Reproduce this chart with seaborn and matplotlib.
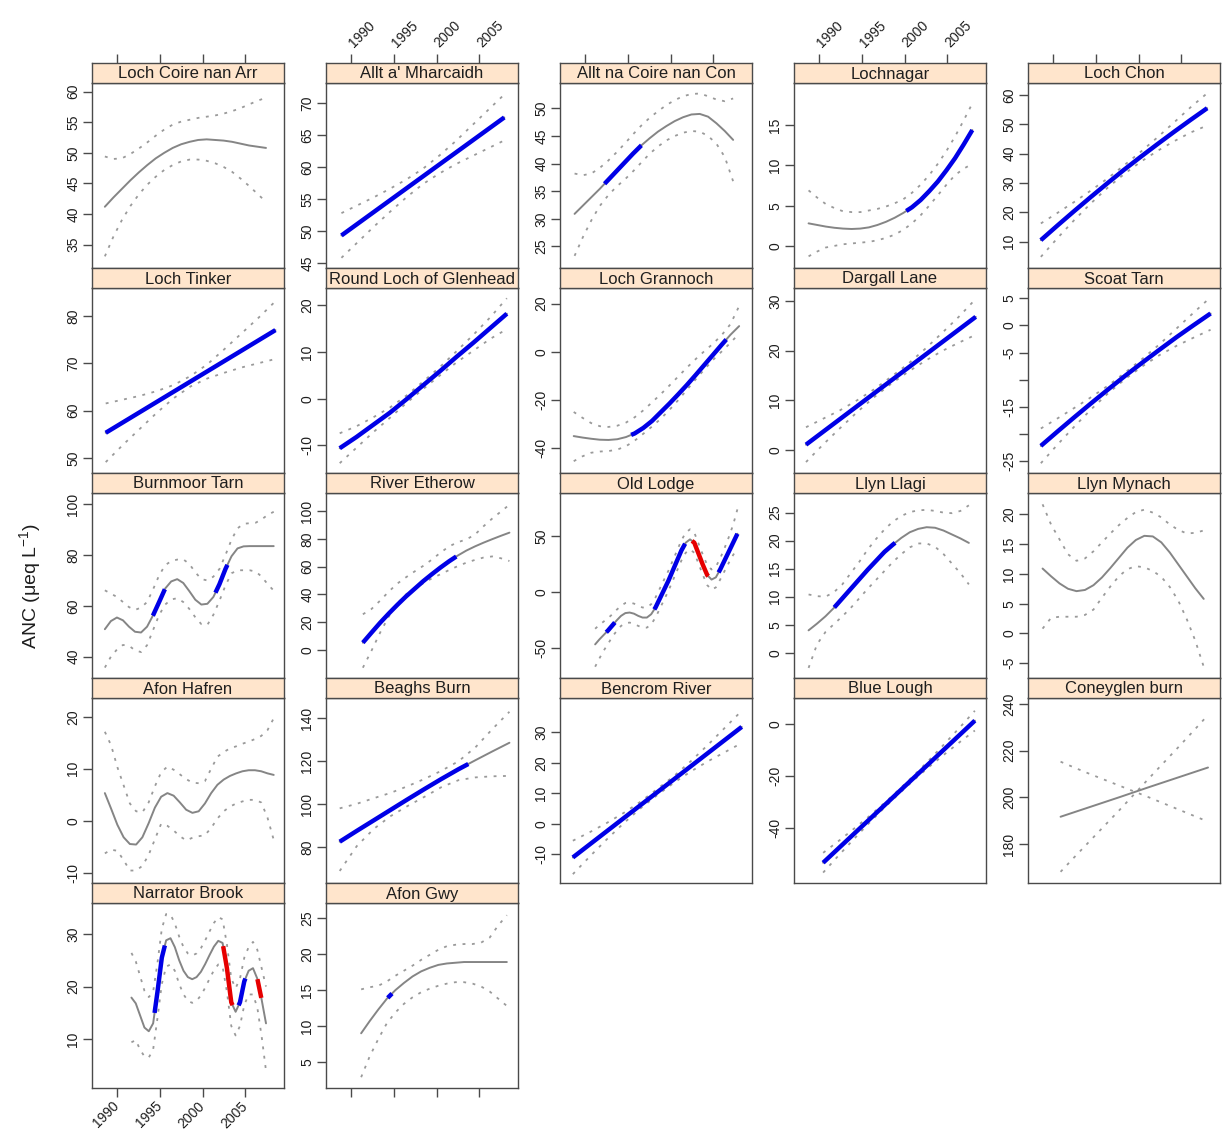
import numpy as np
import pandas as pd
import matplotlib
matplotlib.use("Agg")
import matplotlib.pyplot as plt
import seaborn as sns

# ---------------------------------------------------------------------------
# Smoothed ANC trends per site: fitted trend, upper / lower pointwise bands,
# and the periods of significant increase (up) or decrease (down).
# Each series is sampled evenly between the site's first and last year.
# ---------------------------------------------------------------------------
sites = ["Loch Coire nan Arr", "Allt a' Mharcaidh", "Allt na Coire nan Con", "Lochnagar", "Loch Chon",
         "Loch Tinker", "Round Loch of Glenhead", "Loch Grannoch", "Dargall Lane", "Scoat Tarn",
         "Burnmoor Tarn", "River Etherow", "Old Lodge", "Llyn Llagi", "Llyn Mynach",
         "Afon Hafren", "Beaghs Burn", "Bencrom River", "Blue Lough", "Coneyglen burn",
         "Narrator Brook", "Afon Gwy"]

year_ticks = [1990, 1995, 2000, 2005]

coire_span = (1988.6, 2007.4)
coire_fit = [41.2, 42.7, 44.1, 45.5, 46.8, 48.0, 49.1, 50.0, 50.8, 51.4, 51.8, 52.1, 52.2, 52.1, 52.0, 51.8, 51.5, 51.2, 51.0, 50.8]
coire_hi = [49.4, 49.0, 49.1, 49.8, 50.7, 51.7, 52.8, 53.8, 54.6, 55.1, 55.4, 55.7, 55.9, 56.1, 56.4, 56.8, 57.3, 57.9, 58.5, 59.0]
coire_lo = [33.1, 36.3, 39.0, 41.3, 43.2, 44.8, 46.1, 47.2, 48.0, 48.6, 48.9, 48.9, 48.7, 48.3, 47.7, 46.9, 45.8, 44.6, 43.3, 42.0]
coire_up, coire_down = [], []
coire_ticks, coire_ylim = [35, 40, 45, 50, 55, 60], (31.2, 61.4)

mharc_span = (1988.9, 2007.9)
mharc_fit = [49.3, 51.15, 53.0, 54.85, 56.7, 58.55, 60.4, 62.25, 64.1, 65.95, 67.8]
mharc_hi = [52.8, 54.05, 55.3, 56.65, 58.1, 59.75, 61.8, 64.05, 66.5, 68.95, 71.4]
mharc_lo = [45.8, 48.25, 50.7, 53.05, 55.3, 57.35, 59.0, 60.45, 61.7, 62.95, 64.2]
mharc_up, mharc_down = [(1988.9, 2007.9)], []
mharc_ticks, mharc_ylim = [45, 50, 55, 60, 65, 70], (44.2, 73.2)

con_span = (1988.8, 2007.3)
con_fit = [30.9, 32.4, 33.9, 35.4, 37.0, 38.6, 40.2, 41.8, 43.3, 44.6, 45.8, 46.8, 47.7, 48.4, 48.9, 49.0, 48.5, 47.3, 45.9, 44.3]
con_hi = [38.2, 37.9, 38.2, 39.2, 40.5, 42.0, 43.6, 45.3, 46.9, 48.3, 49.5, 50.6, 51.5, 52.2, 52.6, 52.7, 52.2, 51.6, 51.3, 51.8]
con_lo = [23.3, 26.7, 29.7, 32.3, 34.2, 35.8, 37.1, 38.6, 40.2, 41.8, 43.1, 44.2, 45.0, 45.6, 45.9, 45.8, 45.0, 43.6, 41.2, 36.8]
con_up, con_down = [(1992.3, 1996.6)], []
con_ticks, con_ylim = [25, 30, 35, 40, 45, 50], (21.1, 54.6)

lnag_span = (1988.8, 2007.9)
lnag_fit = [2.8, 2.6, 2.4, 2.25, 2.15, 2.1, 2.15, 2.3, 2.6, 3.0, 3.5, 4.1, 4.8, 5.7, 6.8, 8.0, 9.4, 10.9, 12.6, 14.4]
lnag_hi = [6.9, 6.0, 5.2, 4.7, 4.3, 4.2, 4.2, 4.4, 4.6, 4.9, 5.3, 5.8, 6.6, 7.6, 8.8, 10.2, 11.8, 13.6, 15.6, 17.7]
lnag_lo = [-1.3, -0.7, -0.2, 0.0, 0.2, 0.3, 0.4, 0.5, 0.7, 1.0, 1.4, 2.0, 2.8, 3.8, 5.0, 6.3, 7.6, 8.8, 9.6, 10.2]
lnag_up, lnag_down = [(2000.2, 2007.9)], []
lnag_ticks, lnag_ylim = [0, 5, 10, 15], (-2.75, 20.25)

chon_span = (1988.6, 2008.0)
chon_fit = [10.5, 15.5, 20.4, 25.2, 29.9, 34.5, 38.9, 43.2, 47.4, 51.5, 55.5]
chon_hi = [16.2, 19.8, 23.5, 27.4, 31.5, 36.0, 40.6, 45.5, 50.6, 55.8, 60.6]
chon_lo = [4.8, 11.2, 17.3, 23.0, 28.3, 33.0, 37.2, 40.9, 44.2, 47.2, 49.6]
chon_up, chon_down = [(1988.6, 2008.0)], []
chon_ticks, chon_ylim = [10, 20, 30, 40, 50, 60], (1.0, 64.1)

tink_span = (1988.7, 2008.5)
tink_fit = [55.3, 57.47, 59.64, 61.81, 63.98, 66.15, 68.32, 70.49, 72.66, 74.83, 77.0]
tink_hi = [61.5, 62.3, 63.1, 64.1, 65.4, 67.3, 69.8, 73.0, 76.3, 79.6, 83.1]
tink_lo = [49.1, 52.7, 56.1, 59.5, 62.6, 65.1, 66.8, 68.0, 69.1, 70.0, 70.9]
tink_up, tink_down = [(1988.7, 2008.5)], []
tink_ticks, tink_ylim = [50, 60, 70, 80], (46.8, 85.9)

glen_span = (1988.7, 2008.2)
glen_fit = [-10.6, -8.2, -5.6, -3.0, -0.1, 2.9, 5.9, 9.0, 12.0, 15.1, 18.2]
glen_hi = [-7.4, -5.9, -4.0, -1.9, 0.7, 3.7, 6.8, 10.2, 13.7, 17.4, 21.5]
glen_lo = [-13.8, -10.5, -7.2, -4.1, -0.9, 2.1, 5.0, 7.8, 10.3, 12.8, 14.9]
glen_up, glen_down = [(1988.7, 2008.2)], []
glen_ticks, glen_ylim = [-10, 0, 10, 20], (-15.9, 23.7)

gran_span = (1988.7, 2008.0)
gran_fit = [-34.9, -35.5, -36.0, -36.4, -36.5, -36.2, -35.3, -33.8, -31.5, -28.6, -25.0, -21.4, -17.6, -13.7, -9.6, -5.4, -1.2, 3.0, 7.1, 10.7]
gran_hi = [-24.9, -27.3, -29.5, -30.8, -31.1, -30.6, -29.3, -27.1, -24.2, -20.9, -17.5, -13.9, -10.2, -6.5, -3.0, 0.3, 3.4, 7.0, 11.5, 19.0]
gran_lo = [-45.3, -43.3, -41.8, -41.3, -41.1, -40.5, -39.1, -36.8, -33.9, -30.9, -27.7, -24.0, -20.0, -15.7, -11.4, -7.3, -3.3, 0.2, 3.8, 7.6]
gran_up, gran_down = [(1995.4, 2006.5)], []
gran_ticks, gran_ylim = [-40, -20, 0, 20], (-50.2, 26.5)

darg_span = (1988.5, 2008.3)
darg_fit = [1.1, 3.67, 6.24, 8.81, 11.38, 13.95, 16.52, 19.09, 21.66, 24.23, 26.8]
darg_hi = [4.6, 6.3, 8.0, 10.0, 12.2, 14.7, 17.3, 20.3, 23.5, 26.8, 30.4]
darg_lo = [-2.4, 1.1, 4.4, 7.6, 10.6, 13.3, 15.7, 17.9, 19.9, 21.6, 23.2]
darg_up, darg_down = [(1988.5, 2008.3)], []
darg_ticks, darg_ylim = [0, 10, 20, 30], (-4.6, 32.6)

scoat_span = (1988.6, 2008.4)
scoat_fit = [-22.2, -19.5, -16.85, -14.25, -11.7, -9.2, -6.8, -4.45, -2.15, 0.05, 2.2]
scoat_hi = [-19.0, -17.1, -15.15, -13.15, -11.0, -8.6, -6.1, -3.45, -0.55, 2.35, 5.2]
scoat_lo = [-25.4, -21.9, -18.55, -15.35, -12.4, -9.8, -7.5, -5.45, -3.75, -2.25, -0.8]
scoat_up, scoat_down = [(1988.6, 2008.4)], []
scoat_ticks, scoat_ylim = [-25, -20, -15, -10, -5, 0, 5], (-27.2, 6.9)
scoat_ticklabels = ["-25", "", "-15", "", "-5", "0", "5"]

burn_span = (1988.6, 2008.3)
burn_fit = [50.8, 54.0, 55.4, 54.3, 51.8, 49.8, 49.5, 51.8, 56.3, 61.5, 66.8, 69.6, 70.5, 69.0, 65.8,
            62.4, 60.5, 60.8, 63.5, 68.5, 74.5, 79.5, 82.6, 83.4, 83.5, 83.5, 83.5, 83.5, 83.5]
burn_hi = [66.1, 64.8, 63.5, 61.5, 59.5, 58.4, 59.3, 61.5, 66.5, 72.0, 76.0, 77.6, 78.2, 78.3, 76.5,
           73.2, 70.5, 70.0, 71.5, 74.5, 80.0, 86.0, 90.5, 92.3, 92.5, 92.7, 94.0, 95.8, 97.0]
burn_lo = [35.7, 40.0, 42.8, 44.6, 44.3, 42.5, 41.8, 44.5, 50.5, 56.4, 60.5, 62.5, 63.0, 61.5, 58.8,
           55.5, 52.8, 52.5, 56.5, 62.0, 68.0, 72.8, 74.0, 74.0, 74.0, 73.5, 71.5, 68.5, 66.0]
burn_up, burn_down = [(1994.2, 1995.6), (2001.5, 2002.9)], []
burn_ticks, burn_ylim = [40, 60, 80, 100], (31.6, 104.4)

ether_span = (1991.4, 2008.5)
ether_fit = [5.3, 12.5, 19.6, 26.2, 32.5, 38.5, 44.0, 49.5, 54.5, 59.3, 63.8, 67.9, 71.5, 74.5, 77.2, 79.7, 82.1, 84.4]
ether_hi = [25.7, 29.5, 35.5, 42.0, 47.8, 52.3, 56.5, 60.5, 65.0, 70.0, 74.5, 77.5, 79.5, 83.0, 89.0, 94.5, 99.5, 104.5]
ether_lo = [-12.7, -0.5, 12.5, 24.0, 33.5, 40.0, 44.2, 48.0, 51.5, 54.5, 57.5, 60.3, 62.8, 64.8, 66.5, 67.3, 66.0, 64.0]
ether_up, ether_down = [(1991.4, 2002.3)], []
ether_ticks, ether_ylim = [0, 20, 40, 60, 80, 100], (-20.1, 112.9)

lodge_span = (1991.2, 2007.8)
lodge_fit = [-47, -42.5, -38.5, -34.5, -30, -25.5, -21.5, -19, -18.5, -19.5, -21.5, -23, -23, -20, -14, -6, 2,
             10, 19, 28, 37, 44, 47, 44, 34, 24, 15, 11, 13, 20, 28, 36, 44, 52]
lodge_hi = [-33, -29.5, -26.5, -23.5, -20, -16, -12.5, -10, -9.5, -10.5, -12.5, -14, -14, -11, -5, 3, 11,
            19, 28, 37, 46, 53, 56, 53, 43, 33, 24, 20, 22.5, 30, 39, 49, 60, 74]
lodge_lo = [-67, -59.5, -52.5, -46.5, -40, -35, -30.5, -28, -27.5, -28.5, -30.5, -32, -32, -29, -23, -15, -7,
            1, 10, 19, 28, 35, 38, 35, 25, 15, 6, 2, 4, 11, 18.5, 26, 33, 39]
lodge_up, lodge_down = [(1992.5, 1993.5), (1998.1, 2001.7), (2005.6, 2007.8)], [(2002.5, 2004.4)]
lodge_ticks, lodge_ylim = [-50, 0, 50], (-77.1, 88.5)

llagi_span = (1988.8, 2007.5)
llagi_fit = [4.0, 5.2, 6.5, 8.0, 9.7, 11.4, 13.1, 14.8, 16.4, 18.0, 19.3, 20.5, 21.5, 22.1, 22.4, 22.3, 21.8, 21.1, 20.4, 19.6]
llagi_hi = [10.4, 10.1, 10.0, 10.8, 12.2, 14.2, 16.2, 18.4, 20.3, 22.0, 23.4, 24.4, 25.1, 25.4, 25.5, 25.3, 25.0, 24.9, 25.3, 26.3]
llagi_lo = [-2.7, 1.5, 3.7, 5.1, 6.5, 8.0, 9.7, 11.4, 13.0, 14.6, 16.2, 17.6, 18.8, 19.5, 19.5, 18.9, 17.6, 15.9, 14.2, 12.2]
llagi_up, llagi_down = [(1991.8, 1998.9)], []
llagi_ticks, llagi_ylim = [0, 5, 10, 15, 20, 25], (-4.5, 28.5)

myn_span = (1988.8, 2007.6)
myn_fit = [10.9, 9.6, 8.4, 7.5, 7.1, 7.3, 8.1, 9.4, 11.0, 12.7, 14.4, 15.7, 16.4, 16.3, 15.3, 13.6, 11.6, 9.6, 7.6, 5.8]
myn_hi = [21.7, 18.3, 15.8, 13.3, 12.2, 12.6, 13.8, 15.3, 16.8, 18.2, 19.4, 20.4, 20.8, 20.3, 19.5, 18.3, 17.4, 16.8, 16.9, 17.3]
myn_lo = [0.8, 2.6, 2.8, 2.8, 2.8, 3.1, 4.0, 6.0, 7.9, 9.6, 10.8, 11.3, 11.1, 10.5, 9.5, 7.8, 5.5, 2.4, -1.2, -5.6]
myn_up, myn_down = [], []
myn_ticks, myn_ylim = [-5, 0, 5, 10, 15, 20], (-7.5, 23.6)

haf_span = (1988.6, 2008.3)
haf_fit = [5.3, 2.3, -0.8, -3.2, -4.5, -4.6, -3.2, -0.5, 2.5, 4.6, 5.3, 4.8, 3.5, 2.1, 1.5, 1.8, 3.3, 5.3,
           6.9, 7.9, 8.6, 9.1, 9.5, 9.7, 9.7, 9.5, 9.1, 8.8]
haf_hi = [17.1, 14.5, 10.3, 6.8, 3.3, 1.8, 1.6, 3.5, 6.6, 9.3, 10.4, 9.8, 8.9, 8.0, 7.3, 7.2, 7.6, 10.0,
          12.3, 13.2, 13.9, 14.3, 14.8, 15.2, 15.7, 16.3, 17.4, 19.7]
haf_lo = [-6.3, -5.6, -5.8, -7.6, -9.6, -9.6, -8.7, -6.6, -3.6, -0.6, -1.0, -1.9, -3.0, -3.8, -3.3, -3.0, -2.8, -1.4,
          0.4, 1.8, 2.7, 3.3, 3.7, 4.0, 4.0, 3.5, 0.6, -3.7]
haf_up, haf_down = [], []
haf_ticks, haf_ylim = [-10, 0, 10, 20], (-12.0, 23.6)

beag_span = (1988.7, 2008.5)
beag_fit = [82.6, 87.6, 92.5, 97.4, 102.3, 107.1, 111.8, 116.3, 120.5, 124.6, 128.6]
beag_hi = [98.1, 100.2, 102.8, 105.3, 108.4, 111.8, 115.6, 120.0, 126.5, 135.0, 143.0]
beag_lo = [69.0, 80.5, 88.5, 94.5, 99.2, 103.5, 108.0, 111.2, 112.5, 113.0, 113.2]
beag_up, beag_down = [(1988.7, 2003.7)], []
beag_ticks, beag_ylim = [80, 100, 120, 140], (63.4, 149.4)

benc_span = (1988.6, 2008.3)
benc_fit = [-11.1, -6.81, -2.52, 1.77, 6.06, 10.35, 14.64, 18.93, 23.22, 27.51, 31.8]
benc_hi = [-5.6, -2.8, 0.2, 3.5, 7.2, 11.4, 15.7, 20.6, 25.9, 31.5, 37.1]
benc_lo = [-16.6, -10.8, -5.2, 0.1, 5.0, 9.4, 13.5, 17.2, 20.5, 23.5, 26.5]
benc_up, benc_down = [(1988.6, 2008.3)], []
benc_ticks, benc_ylim = [-10, 0, 10, 20, 30], (-19.5, 41.3)

blue_span = (1990.5, 2008.2)
blue_fit = [-53.2, -47.74, -42.28, -36.82, -31.36, -25.9, -20.44, -14.98, -9.52, -4.06, 1.4]
blue_hi = [-49.4, -44.94, -40.28, -35.52, -30.46, -25.1, -19.54, -13.68, -7.52, -1.26, 5.2]
blue_lo = [-57.0, -50.54, -44.28, -38.12, -32.26, -26.7, -21.34, -16.28, -11.52, -6.86, -2.4]
blue_up, blue_down = [(1990.5, 2008.2)], []
blue_ticks, blue_ylim = [-40, -20, 0], (-61.0, 10.1)

coney_span = (1990.9, 2008.1)
coney_fit = [191.7, 193.8, 195.9, 198.0, 200.1, 202.25, 204.4, 206.5, 208.6, 210.7, 212.8]
coney_hi = [215.3, 212.6, 210.0, 207.5, 205.0, 202.5, 200.0, 197.4, 194.8, 192.2, 189.6]
coney_lo = [168.1, 174.8, 181.4, 188.0, 194.6, 201.4, 208.2, 214.9, 221.6, 228.4, 235.3]
coney_up, coney_down = [], []
coney_ticks, coney_ylim = [180, 200, 220, 240], (163.3, 242.6)

narr_span = (1991.7, 2007.4)
narr_fit = [17.9, 16.8, 14.5, 12.2, 11.5, 13.0, 19.0, 25.5, 28.8, 29.2, 27.5, 25.0, 23.0, 21.8, 21.4, 21.8,
            22.8, 24.3, 26.0, 27.6, 28.7, 28.3, 23.5, 17.0, 15.2, 17.0, 21.0, 23.0, 23.5, 21.5, 17.5, 13.0]
narr_hi = [26.4, 24.8, 22.0, 19.2, 18.0, 19.0, 24.5, 31.0, 33.8, 33.7, 32.0, 29.5, 27.5, 26.3, 25.9, 26.3,
           27.3, 28.8, 30.5, 32.1, 33.2, 32.8, 28.0, 21.5, 19.7, 21.5, 25.5, 27.5, 28.5, 27.0, 23.5, 20.0]
narr_lo = [9.4, 9.8, 8.0, 6.7, 6.5, 8.0, 14.0, 20.5, 23.8, 24.2, 23.0, 20.5, 18.5, 17.3, 16.9, 17.3,
           18.3, 19.8, 21.5, 23.1, 24.2, 23.8, 19.0, 12.5, 10.7, 12.5, 16.5, 18.5, 18.5, 16.0, 10.5, 4.0]
narr_up, narr_down = [(1994.4, 1995.6), (2004.2, 2005.0)], [(2002.4, 2003.5), (2006.4, 2006.85)]
narr_ticks, narr_ylim = [10, 20, 30], (0.7, 35.9)

gwy_span = (1991.2, 2008.2)
gwy_fit = [9.0, 10.7, 12.3, 13.8, 15.0, 16.0, 16.9, 17.6, 18.1, 18.5, 18.7, 18.8, 18.9, 18.9, 18.9, 18.9, 18.9, 18.9]
gwy_hi = [15.1, 15.4, 15.6, 16.2, 17.0, 17.7, 18.4, 19.2, 19.9, 20.6, 21.1, 21.3, 21.4, 21.4, 21.6, 22.3, 24.0, 25.4]
gwy_lo = [2.9, 5.8, 8.2, 10.4, 11.9, 13.1, 14.0, 14.7, 15.2, 15.6, 15.9, 16.1, 16.1, 15.9, 15.5, 14.8, 13.8, 12.8]
gwy_up, gwy_down = [(1994.3, 1994.8)], []
gwy_ticks, gwy_ylim = [5, 10, 15, 20, 25], (1.4, 27.1)

panels = [
    (coire_span, coire_fit, coire_hi, coire_lo, coire_up, coire_down, coire_ticks, None, coire_ylim),
    (mharc_span, mharc_fit, mharc_hi, mharc_lo, mharc_up, mharc_down, mharc_ticks, None, mharc_ylim),
    (con_span, con_fit, con_hi, con_lo, con_up, con_down, con_ticks, None, con_ylim),
    (lnag_span, lnag_fit, lnag_hi, lnag_lo, lnag_up, lnag_down, lnag_ticks, None, lnag_ylim),
    (chon_span, chon_fit, chon_hi, chon_lo, chon_up, chon_down, chon_ticks, None, chon_ylim),
    (tink_span, tink_fit, tink_hi, tink_lo, tink_up, tink_down, tink_ticks, None, tink_ylim),
    (glen_span, glen_fit, glen_hi, glen_lo, glen_up, glen_down, glen_ticks, None, glen_ylim),
    (gran_span, gran_fit, gran_hi, gran_lo, gran_up, gran_down, gran_ticks, None, gran_ylim),
    (darg_span, darg_fit, darg_hi, darg_lo, darg_up, darg_down, darg_ticks, None, darg_ylim),
    (scoat_span, scoat_fit, scoat_hi, scoat_lo, scoat_up, scoat_down, scoat_ticks, scoat_ticklabels, scoat_ylim),
    (burn_span, burn_fit, burn_hi, burn_lo, burn_up, burn_down, burn_ticks, None, burn_ylim),
    (ether_span, ether_fit, ether_hi, ether_lo, ether_up, ether_down, ether_ticks, None, ether_ylim),
    (lodge_span, lodge_fit, lodge_hi, lodge_lo, lodge_up, lodge_down, lodge_ticks, None, lodge_ylim),
    (llagi_span, llagi_fit, llagi_hi, llagi_lo, llagi_up, llagi_down, llagi_ticks, None, llagi_ylim),
    (myn_span, myn_fit, myn_hi, myn_lo, myn_up, myn_down, myn_ticks, None, myn_ylim),
    (haf_span, haf_fit, haf_hi, haf_lo, haf_up, haf_down, haf_ticks, None, haf_ylim),
    (beag_span, beag_fit, beag_hi, beag_lo, beag_up, beag_down, beag_ticks, None, beag_ylim),
    (benc_span, benc_fit, benc_hi, benc_lo, benc_up, benc_down, benc_ticks, None, benc_ylim),
    (blue_span, blue_fit, blue_hi, blue_lo, blue_up, blue_down, blue_ticks, None, blue_ylim),
    (coney_span, coney_fit, coney_hi, coney_lo, coney_up, coney_down, coney_ticks, None, coney_ylim),
    (narr_span, narr_fit, narr_hi, narr_lo, narr_up, narr_down, narr_ticks, None, narr_ylim),
    (gwy_span, gwy_fit, gwy_hi, gwy_lo, gwy_up, gwy_down, gwy_ticks, None, gwy_ylim),
]

# ---------------------------------------------------------------------------
# Styling
# ---------------------------------------------------------------------------
sns.set_style("ticks")
plt.rcParams["font.family"] = ["Liberation Sans", "DejaVu Sans"]
plt.rcParams["axes.unicode_minus"] = False
plt.rcParams["mathtext.default"] = "regular"

EDGE = "#4a4a4a"
TEXT = "#1e1e1e"
STRIP = "#FFE5CC"
FIT_COL = "#858585"
BAND_COL = "#9a9a9a"
UP_COL = "#0000e6"
DOWN_COL = "#e60000"
XLIM = (1987.1, 2009.5)
TICK_FS = 10

W, H = 1222, 1140
fig = plt.figure(figsize=(W / 100, H / 100), dpi=100)


def px_axes(x0, y0, w, h):
    return fig.add_axes([x0 / W, 1 - (y0 + h) / H, w / W, h / H])


def style_frame(ax):
    for sp in ax.spines.values():
        sp.set_color(EDGE)
        sp.set_linewidth(1.0)
    ax.tick_params(colors=EDGE, labelcolor=TEXT, length=6.5, width=1.0,
                   direction="out", labelsize=TICK_FS, pad=2)


for i, (name, (span, fit, hi, lo, up, down, ticks, tlabels, ylim)) in enumerate(zip(sites, panels)):
    r, c = divmod(i, 5)
    x0 = 92 + 234 * c
    y_strip = 63 + 205 * r

    ax = px_axes(x0, y_strip + 20, 192, 185)
    strip = px_axes(x0, y_strip, 192, 20)

    yrs = np.linspace(span[0], span[1], len(fit))
    df = pd.DataFrame({"year": yrs, "fit": fit, "hi": hi, "lo": lo})

    # pointwise bands
    for col in ("hi", "lo"):
        sns.lineplot(data=df, x="year", y=col, ax=ax, color=BAND_COL, lw=1.3,
                     linestyle=(0, (1.6, 3.6)))
    # fitted trend
    sns.lineplot(data=df, x="year", y="fit", ax=ax, color=FIT_COL, lw=1.4)
    # periods of significant change drawn over the trend
    for segs, colr in ((up, UP_COL), (down, DOWN_COL)):
        for a, b in segs:
            inner = yrs[(yrs > a) & (yrs < b)]
            sx = np.concatenate([[a], inner, [b]])
            sy = np.interp(sx, yrs, fit)
            sns.lineplot(x=sx, y=sy, ax=ax, color=colr, lw=3.2, solid_capstyle="butt")

    ax.set_xlim(XLIM)
    ax.set_ylim(ylim)
    ax.set_xlabel("")
    ax.set_ylabel("")
    style_frame(ax)
    ax.set_yticks(ticks)
    ax.set_yticklabels(tlabels if tlabels is not None else [str(t) for t in ticks],
                       rotation=90, va="center")

    # bottom axis only on the last layout row
    ax.set_xticks(year_ticks)
    if r == 4:
        ax.tick_params(axis="x", bottom=True, labelbottom=(c % 2 == 0), top=False,
                       labeltop=False, pad=5)
        if c % 2 == 0:
            ax.set_xticklabels([str(t) for t in year_ticks], rotation=45, ha="right",
                               va="center", rotation_mode="anchor")
    else:
        ax.tick_params(axis="x", bottom=False, labelbottom=False, top=False, labeltop=False)

    # strip with the site name
    strip.set_facecolor(STRIP)
    strip.set_xlim(XLIM)
    strip.set_ylim(0, 1)
    style_frame(strip)
    strip.set_yticks([])
    strip.set_xticks(year_ticks)
    if r == 0:
        strip.tick_params(axis="x", top=True, bottom=False, labelbottom=False,
                          labeltop=(c % 2 == 1), pad=6)
        if c % 2 == 1:
            strip.set_xticklabels([str(t) for t in year_ticks], rotation=45, ha="left",
                                  va="center", rotation_mode="anchor")
    else:
        strip.tick_params(axis="x", top=False, bottom=False, labelbottom=False, labeltop=False)
    strip.text(0.5, 0.45, name, transform=strip.transAxes, ha="center", va="center",
               fontsize=12, color=TEXT, clip_on=True)

fig.text(30 / W, 1 - 586 / H, "ANC (μeq L$^{-1}$)", rotation=90, ha="center", va="center",
         fontsize=14, color=TEXT)

fig.savefig("out.png", dpi=100, facecolor="white")
